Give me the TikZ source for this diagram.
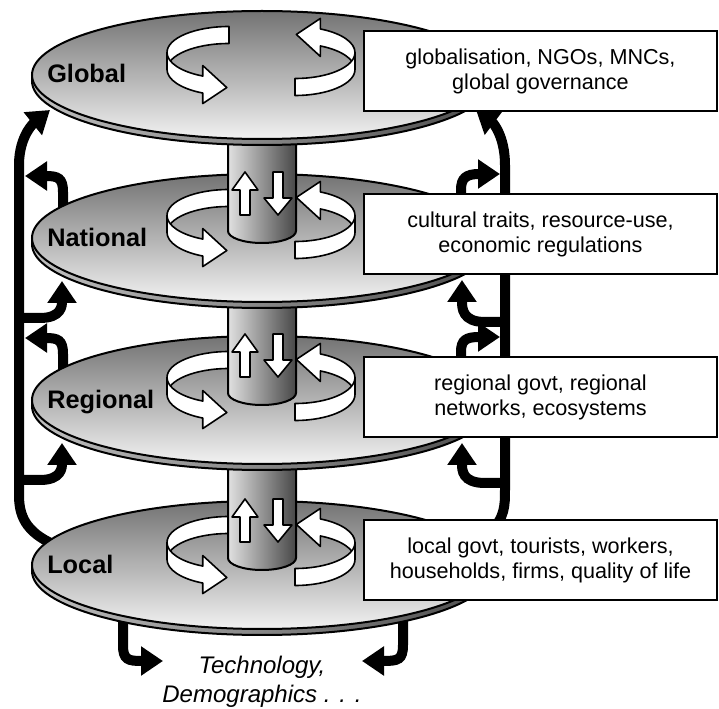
\documentclass[tikz,border=0pt]{standalone}
\usepackage{fontspec}
\setmainfont{Liberation Sans}
\usetikzlibrary{arrows.meta}

\begin{document}
\begin{tikzpicture}[x=0.75pt,y=0.75pt,yscale=-1,xscale=1,
  disc/.style={draw, line width=1.5pt, top color=black!55, bottom color=black!5},
  rim/.style={draw, line width=1.5pt, left color=black!25, right color=black!70},
  ribbon/.style={draw, line width=1.2pt, fill=white, line join=round},
  pillar/.style={draw, line width=1.5pt, left color=black!12, right color=black!72},
  link/.style={line width=7.5pt, -{Triangle[length=16.5pt,width=21pt]}},
  infobox/.style={draw, line width=1.5pt, fill=white, minimum width=264.75pt, minimum height=60pt, align=center, inner sep=0pt, font=\fontsize{16.2}{18.75}\selectfont},
  level/.style={anchor=base west, inner sep=0pt, font=\fontsize{19}{22}\selectfont\bfseries}]
\useasboundingbox (0,0) rectangle (719,709);

%Straight Lines: left loop
\draw [link] (55,545) .. controls (25,532) and (19,515) .. (19,495) -- (19,165) .. controls (19,135) and (35,122) .. (50,110) ;
\draw [link] (63,215) -- (63,192) .. controls (63,178) and (58,176) .. (25,176) ;
\draw [link] (63,377) -- (63,354) .. controls (63,340) and (58,338) .. (25,338) ;
\draw [link] (19,318) -- (40,318) .. controls (62,318) and (62,305) .. (62,281) ;
\draw [link] (19,480) -- (40,480) .. controls (62,480) and (62,467) .. (62,443) ;
%Straight Lines: right loop
\draw [link] (490,532) .. controls (505,518) and (505,505) .. (505,490) -- (505,165) .. controls (505,135) and (492,122) .. (476,110) ;
\draw [link] (461,205) -- (461,190) .. controls (461,178) and (466,174) .. (500,174) ;
\draw [link] (461,368) -- (461,352) .. controls (461,340) and (466,337) .. (500,337) ;
\draw [link] (505,322) -- (485,322) .. controls (462,322) and (462,308) .. (462,280) ;
\draw [link] (505,483) -- (485,483) .. controls (462,483) and (462,470) .. (462,443) ;
%Straight Lines: outside
\draw [link] (123,615) -- (123,645) .. controls (123,660) and (128,661) .. (163,661) ;
\draw [link] (403,615) -- (403,645) .. controls (403,660) and (398,661) .. (362,661) ;

%Shape: Ellipse (local)
\draw [rim] (262,571) ellipse [x radius=230, y radius=64] ;
\draw [disc] (262,565) ellipse [x radius=230, y radius=64] ;
\draw [ribbon] (229,516.5) arc[start angle=270,end angle=180,x radius=62,y radius=26] -- ++(0,17) arc[start angle=180,end angle=270,x radius=62,y radius=26] -- cycle ;
\draw [ribbon] (167,542.5) arc[start angle=180,end angle=115,x radius=62,y radius=26] -- ++(0,-10.5) -- ++(24,22) -- ++(-24,16) -- ++(0,-10.5) arc[start angle=115,end angle=180,x radius=62,y radius=26] -- cycle ;
\draw [ribbon] (320.36,518.94) arc[start angle=-65,end angle=0,x radius=60,y radius=26] -- ++(0,17) arc[start angle=0,end angle=-65,x radius=60,y radius=26] -- ++(0,10.5) -- ++(-24,-22) -- ++(24,-16) -- cycle ;
\draw [ribbon] (355,542.5) arc[start angle=0,end angle=90,x radius=60,y radius=26] -- ++(0,17) arc[start angle=90,end angle=0,x radius=60,y radius=26] -- cycle ;
%Shape: Can
\draw [pillar] (228,420) -- (228,558) arc[start angle=180,end angle=0,x radius=34,y radius=12] -- (296,420) -- cycle ;
\draw [ribbon] (240,542) -- (240,517) -- (232,517) -- (245,499) -- (258,517) -- (250,517) -- (250,542) -- cycle ;
\draw [ribbon] (273,499) -- (273,525) -- (264,525) -- (278,542) -- (292,525) -- (283,525) -- (283,499) -- cycle ;

%Shape: Ellipse (regional)
\draw [rim] (262,406) ellipse [x radius=230, y radius=64] ;
\draw [disc] (262,400) ellipse [x radius=230, y radius=64] ;
\draw [ribbon] (229,351.5) arc[start angle=270,end angle=180,x radius=62,y radius=26] -- ++(0,17) arc[start angle=180,end angle=270,x radius=62,y radius=26] -- cycle ;
\draw [ribbon] (167,377.5) arc[start angle=180,end angle=115,x radius=62,y radius=26] -- ++(0,-10.5) -- ++(24,22) -- ++(-24,16) -- ++(0,-10.5) arc[start angle=115,end angle=180,x radius=62,y radius=26] -- cycle ;
\draw [ribbon] (320.36,353.94) arc[start angle=-65,end angle=0,x radius=60,y radius=26] -- ++(0,17) arc[start angle=0,end angle=-65,x radius=60,y radius=26] -- ++(0,10.5) -- ++(-24,-22) -- ++(24,-16) -- cycle ;
\draw [ribbon] (355,377.5) arc[start angle=0,end angle=90,x radius=60,y radius=26] -- ++(0,17) arc[start angle=90,end angle=0,x radius=60,y radius=26] -- cycle ;
%Shape: Can
\draw [pillar] (228,258) -- (228,393) arc[start angle=180,end angle=0,x radius=34,y radius=12] -- (296,258) -- cycle ;
\draw [ribbon] (240,377) -- (240,352) -- (232,352) -- (245,334) -- (258,352) -- (250,352) -- (250,377) -- cycle ;
\draw [ribbon] (273,334) -- (273,360) -- (264,360) -- (278,377) -- (292,360) -- (283,360) -- (283,334) -- cycle ;

%Shape: Ellipse (national)
\draw [rim] (262,244) ellipse [x radius=230, y radius=64] ;
\draw [disc] (262,238) ellipse [x radius=230, y radius=64] ;
\draw [ribbon] (229,189.5) arc[start angle=270,end angle=180,x radius=62,y radius=26] -- ++(0,17) arc[start angle=180,end angle=270,x radius=62,y radius=26] -- cycle ;
\draw [ribbon] (167,215.5) arc[start angle=180,end angle=115,x radius=62,y radius=26] -- ++(0,-10.5) -- ++(24,22) -- ++(-24,16) -- ++(0,-10.5) arc[start angle=115,end angle=180,x radius=62,y radius=26] -- cycle ;
\draw [ribbon] (320.36,191.94) arc[start angle=-65,end angle=0,x radius=60,y radius=26] -- ++(0,17) arc[start angle=0,end angle=-65,x radius=60,y radius=26] -- ++(0,10.5) -- ++(-24,-22) -- ++(24,-16) -- cycle ;
\draw [ribbon] (355,215.5) arc[start angle=0,end angle=90,x radius=60,y radius=26] -- ++(0,17) arc[start angle=90,end angle=0,x radius=60,y radius=26] -- cycle ;
%Shape: Can
\draw [pillar] (228,95) -- (228,231) arc[start angle=180,end angle=0,x radius=34,y radius=12] -- (296,95) -- cycle ;
\draw [ribbon] (240,215) -- (240,190) -- (232,190) -- (245,172) -- (258,190) -- (250,190) -- (250,215) -- cycle ;
\draw [ribbon] (273,172) -- (273,198) -- (264,198) -- (278,215) -- (292,198) -- (283,198) -- (283,172) -- cycle ;

%Shape: Ellipse (global)
\draw [rim] (262,81) ellipse [x radius=230, y radius=64] ;
\draw [disc] (262,75) ellipse [x radius=230, y radius=64] ;
\draw [ribbon] (229,26.5) arc[start angle=270,end angle=180,x radius=62,y radius=26] -- ++(0,17) arc[start angle=180,end angle=270,x radius=62,y radius=26] -- cycle ;
\draw [ribbon] (167,52.5) arc[start angle=180,end angle=115,x radius=62,y radius=26] -- ++(0,-10.5) -- ++(24,22) -- ++(-24,16) -- ++(0,-10.5) arc[start angle=115,end angle=180,x radius=62,y radius=26] -- cycle ;
\draw [ribbon] (320.36,28.94) arc[start angle=-65,end angle=0,x radius=60,y radius=26] -- ++(0,17) arc[start angle=0,end angle=-65,x radius=60,y radius=26] -- ++(0,10.5) -- ++(-24,-22) -- ++(24,-16) -- cycle ;
\draw [ribbon] (355,52.5) arc[start angle=0,end angle=90,x radius=60,y radius=26] -- ++(0,17) arc[start angle=90,end angle=0,x radius=60,y radius=26] -- cycle ;

% Text Node
\node [infobox] (globalBox) at (540.5,71) {globalisation, NGOs, MNCs,\\global governance};
% Text Node
\node [infobox] (nationalBox) at (540.5,234) {cultural traits, resource-use,\\economic regulations};
% Text Node
\node [infobox] (regionalBox) at (540.5,397) {regional govt, regional\\networks, ecosystems};
% Text Node
\node [infobox] (localBox) at (540.5,560) {local govt, tourists, workers,\\households, firms, quality of life};

% Text Node
\node [level] (globalLbl) at (47,83) {Global};
% Text Node
\node [level] (nationalLbl) at (47,247) {National};
% Text Node
\node [level] (regionalLbl) at (47,409) {Regional};
% Text Node
\node [level] (localLbl) at (47,574) {Local};
% Text Node
\node [anchor=north, inner sep=0pt, align=center, font=\fontsize{18}{21.75}\selectfont\itshape] (drivers) at (262,656) {Technology,\\Demographics . . .};

\end{tikzpicture}
\end{document}
